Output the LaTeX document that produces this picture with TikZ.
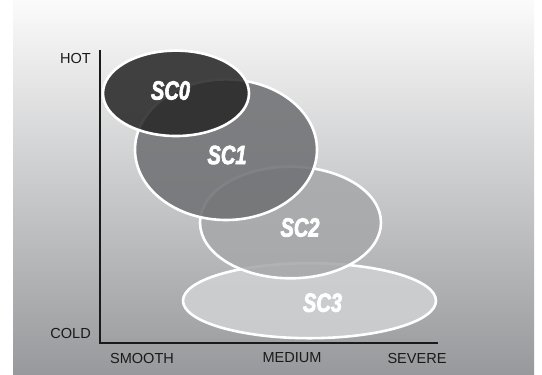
\documentclass[tikz,border=0pt]{standalone}
\usepackage{fontspec}
\setmainfont{Liberation Sans}
\newfontfamily\zonefont{Liberation Sans Bold Italic}[FakeBold=3]
\definecolor{bgtop}{HTML}{FBFBFB}
\definecolor{bgbottom}{HTML}{98999C}
\definecolor{axisdark}{HTML}{1A1A1A}
\definecolor{sczero}{HTML}{29292A}
\definecolor{scone}{HTML}{707174}
\definecolor{sctwo}{HTML}{A7A8AA}
\definecolor{scthree}{HTML}{D0D1D3}
\newcommand{\zone}[5]{%
  \filldraw[zone, fill=#1] (#2,#3) ellipse [x radius=#4, y radius=#5];%
}
\newcommand{\narrow}[1]{\scalebox{0.76}[1]{#1}}

\begin{document}
\begin{tikzpicture}[
  x=1bp,
  y=-1bp,
  axis/.style={draw=axisdark, line width=1.5bp},
  axislabel/.style={font=\fontsize{14.6}{15}\selectfont, text=axisdark, inner sep=0pt},
  zone/.style={draw=white, line width=2.6bp, fill opacity=0.88},
  zonelabel/.style={text=white, inner sep=0pt, font=\zonefont\fontsize{26.5}{27}\selectfont}
]
  \useasboundingbox (0,0) rectangle (542,374);
  % Backdrop.
  \fill[white] (0,0) rectangle (542,374);
  \shade[top color=bgtop, bottom color=bgbottom] (13,0) rectangle (534,374);

  % Zones, back to front.
  \zone{scthree}{309.5}{300.7}{126.5}{37.5}
  \zone{sctwo}{290.5}{222.5}{90.5}{55.8}
  \zone{scone}{226}{149.7}{91}{70.3}
  \zone{sczero}{176}{93.3}{73}{42.7}

  \node[zonelabel] (sc0) at (170.5, 90.5) {\narrow{SC0}};
  \node[zonelabel] (sc1) at (227, 155) {\narrow{SC1}};
  \node[zonelabel] (sc2) at (300, 227.5) {\narrow{SC2}};
  \node[zonelabel] (sc3) at (322.5, 302.7) {\narrow{SC3}};

  % Axes.
  \coordinate (origin) at (100,343);
  \coordinate (ytop) at (100,50);
  \coordinate (xend) at (438,343);
  \draw[axis] (ytop) -- (origin) -- (xend);

  \node[axislabel, anchor=east] (hot) at (91,58) {HOT};
  \node[axislabel, anchor=east] (cold) at (91,333) {COLD};
  \node[axislabel] (smooth) at (142,358) {SMOOTH};
  \node[axislabel] (medium) at (292,358) {MEDIUM};
  \node[axislabel] (severe) at (417,358) {SEVERE};
\end{tikzpicture}
\end{document}
